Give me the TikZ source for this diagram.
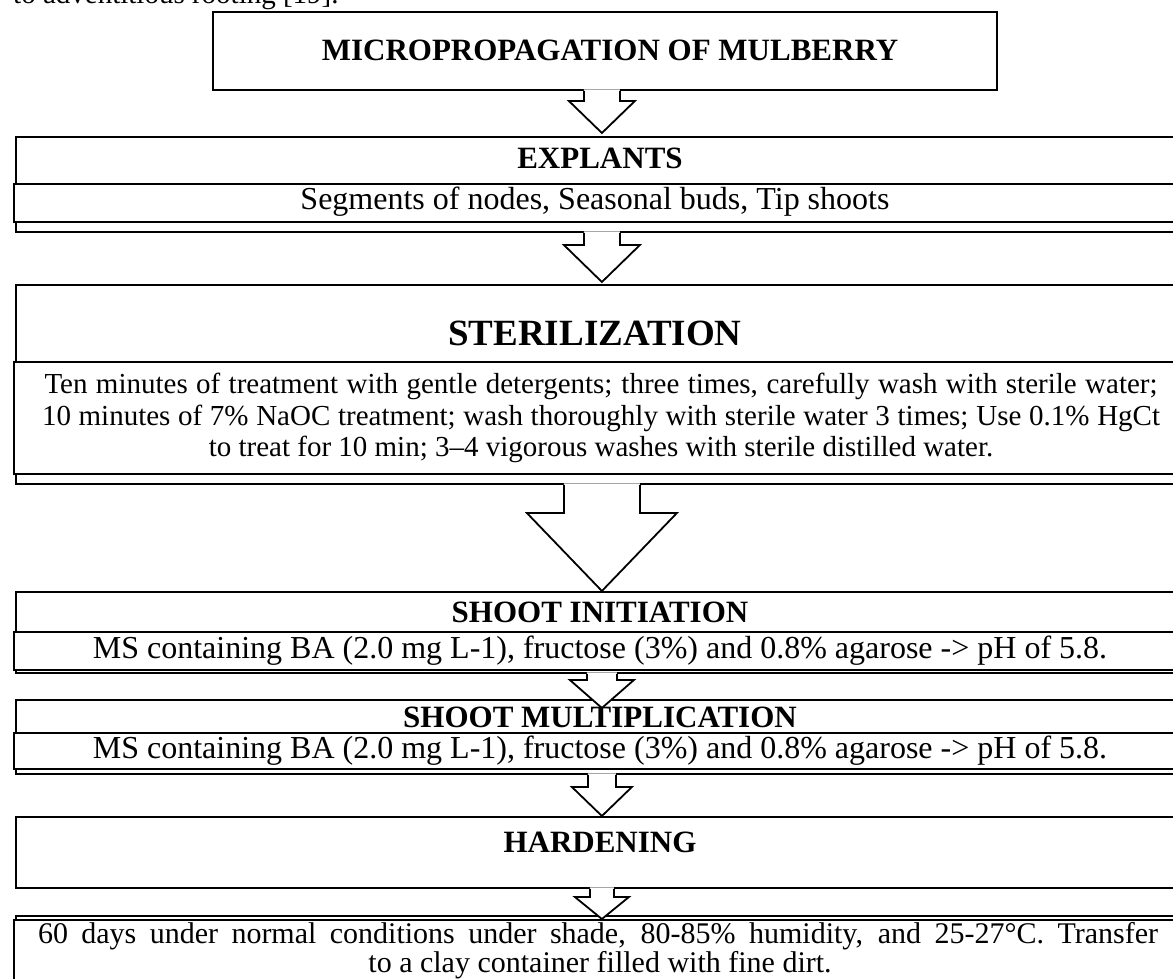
\documentclass[tikz,border=0pt]{standalone}
\usepackage{fontspec}
\setmainfont{Liberation Serif}
\usetikzlibrary{calc}
\newcommand{\fsz}[1]{\fontsize{#1}{#1}\selectfont}
% block arrow: #1 upper anchor, #2 tip anchor, #3 stem half width, #4 wing half width,
% #5 head length, #6 shift of the tip downwards (pt)
\newcommand{\blkarrow}[6]{%
  \fill[white] let \p1=(#1), \p2=($(#2)+(0,#6)$) in
    (\x2-#3pt,\y1+1.5pt) -- (\x2-#3pt,\y2+#5pt) -- (\x2-#4pt,\y2+#5pt) -- (\x2,\y2)
    -- (\x2+#4pt,\y2+#5pt) -- (\x2+#3pt,\y2+#5pt) -- (\x2+#3pt,\y1+1.5pt) -- cycle;
  \draw[barrow] let \p1=(#1), \p2=($(#2)+(0,#6)$) in
    (\x2-#3pt,\y1) -- (\x2-#3pt,\y2+#5pt) -- (\x2-#4pt,\y2+#5pt) -- (\x2,\y2)
    -- (\x2+#4pt,\y2+#5pt) -- (\x2+#3pt,\y2+#5pt) -- (\x2+#3pt,\y1);
}
\tikzset{
  box/.style={draw, line width=1.8pt, fill=white, inner sep=0pt, anchor=north west},
  barrow/.style={draw, line width=1.8pt, line join=miter},
  hdr/.style={font=\bfseries\fsz{31}, inner sep=0pt},
  txt/.style={font=\fsz{32}, inner sep=0pt},
}
\begin{document}
\begin{tikzpicture}[x=1pt,y=-1pt]
\useasboundingbox (0,0) rectangle (1173,979);
\clip (0,0) rectangle (1173,979);
\fill[white] (0,0) rectangle (1173,979);

% text above the chart (cut off by the page)
\node[font=\fsz{29}, inner sep=0pt, anchor=base west] (prev) at (13,4) {to adventitious rooting [19].};

% boxes
\node[box, minimum width=784pt, minimum height=78pt] (ttl) at (212,11) {};

\node[box, minimum width=1172pt, minimum height=95pt] (expO) at (15,136) {};
\node[box, minimum width=1176pt, minimum height=38pt] (expI) at (13,183) {};

\node[box, minimum width=1172pt, minimum height=199pt] (stO) at (15,284) {};
\node[box, minimum width=1176pt, minimum height=112pt] (stI) at (13,361) {};

\node[box, minimum width=1172pt, minimum height=81pt] (siO) at (15,591) {};
\node[box, minimum width=1176pt, minimum height=38pt] (siI) at (13,631) {};

\node[box, minimum width=1172pt, minimum height=74pt] (smO) at (15,699) {};
\node[box, minimum width=1176pt, minimum height=36pt] (smI) at (13,732) {};

\node[box, minimum width=1172pt, minimum height=71pt] (hard) at (15,816) {};

\node[box, minimum width=1172pt, minimum height=90pt] (finO) at (15,915) {};
\node[box, minimum width=1176pt, minimum height=90pt] (finI) at (13,919) {};

% block arrows
\blkarrow{ttl.south}{expO.north}{18}{33}{32}{-3}
\blkarrow{expO.south}{stO.north}{18}{38}{37}{-2}
\blkarrow{stO.south}{siO.north}{38}{75}{78}{0}
\blkarrow{siO.south}{smO.north}{15}{32}{28}{9}
\blkarrow{smO.south}{hard.north}{14}{30}{29}{0}
\blkarrow{hard.south}{finI.north}{12}{27}{22}{0}

% texts
\node[hdr] (ttlT) at (610,50) {MICROPROPAGATION OF MULBERRY};

\node[hdr] (expH) at (600,158) {EXPLANTS};
\node[txt] (expT) at (595,202) {Segments of nodes, Seasonal buds, Tip shoots};

\node[hdr, font=\bfseries\fsz{37}] (stH) at (595,333) {STERILIZATION};
\node[txt, font=\fsz{29}] (stL1) at (601,386) {\makebox[1113pt][s]{Ten minutes of treatment with gentle detergents; three times, carefully wash with sterile water;}};
\node[txt, font=\fsz{29}] (stL2) at (601,418) {\makebox[1118pt][s]{10 minutes of 7\% NaOC treatment; wash thoroughly with sterile water 3 times; Use 0.1\% HgCt}};
\node[txt, font=\fsz{29}] (stL3) at (601,449) {to treat for 10 min; 3–4 vigorous washes with sterile distilled water.};

\node[hdr] (siH) at (600,612) {SHOOT INITIATION};
\node[txt] (siT) at (600,651) {MS containing BA (2.0 mg L-1), fructose (3\%) and 0.8\% agarose -> pH of 5.8.};

\node[hdr] (smH) at (600,717) {SHOOT MULTIPLICATION};
\node[txt] (smT) at (600,751) {MS containing BA (2.0 mg L-1), fructose (3\%) and 0.8\% agarose -> pH of 5.8.};

\node[hdr] (hdH) at (600,842) {HARDENING};

\node[txt, font=\fsz{30}] (fnL1) at (598,936) {\makebox[1120pt][s]{60 days under normal conditions under shade, 80-85\% humidity, and 25-27°C. Transfer}};
\node[txt, font=\fsz{30}] (fnL2) at (600,965) {to a clay container filled with fine dirt.};
\end{tikzpicture}
\end{document}
